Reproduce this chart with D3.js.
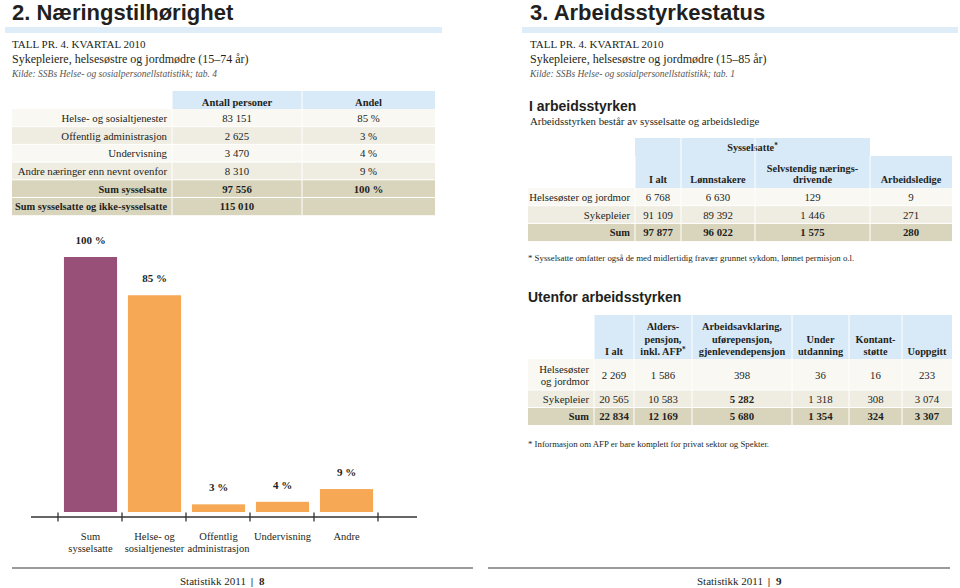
<!DOCTYPE html>
<html><head><meta charset="utf-8">
<script src="https://cdn.jsdelivr.net/npm/d3@7"></script>
<style>body{margin:0;background:#fff}svg{display:block}</style>
</head><body>
<svg id="c" width="960" height="588"></svg>
<script>
// ---------- DATA ----------
const barCategories = ["Sum sysselsatte","Helse- og sosialtjenester","Offentlig administrasjon","Undervisning","Andre"];
const barTickLabels = [["Sum","sysselsatte"],["Helse- og","sosialtjenester"],["Offentlig","administrasjon"],["Undervisning"],["Andre"]];
const barValues = [100,85,3,4,9];

const tblRows = ["Helse- og sosialtjenester","Offentlig administrasjon","Undervisning","Andre næringer enn nevnt ovenfor","Sum sysselsatte","Sum sysselsatte og ikke-sysselsatte"];
const tblHeaders = [["Antall personer"],["Andel"]];
const tblAntall = [83151,2625,3470,8310,97556,115010];
const tblAndel = [85,3,4,9,100,null];

const t1Rows = [["Helsesøster og jordmor"],["Sykepleier"],["Sum"]];
const t1Headers = [["I alt"],["Lønnstakere"],["Selvstendig nærings-","drivende"],["Arbeidsledige"]];
const t1IAlt = [6768,91109,97877];
const t1Lonn = [6630,89392,96022];
const t1Selv = [129,1446,1575];
const t1Ledige = [9,271,280];

const t2Rows = [["Helsesøster","og jordmor"],["Sykepleier"],["Sum"]];
const t2Headers = [["I alt"],["Alders-","pensjon,","inkl. AFP*"],["Arbeidsavklaring,","uførepensjon,","gjenlevendepensjon"],["Under","utdanning"],["Kontant-","støtte"],["Uoppgitt"]];
const t2IAlt = [2269,20565,22834];
const t2Alders = [1586,10583,12169];
const t2Arbeid = [398,5282,5680];
const t2Under = [36,1318,1354];
const t2Kontant = [16,308,324];
const t2Uoppgitt = [233,3074,3307];

// ---------- STYLE ----------
const SERIF = "'Liberation Serif', 'DejaVu Serif', serif";
const SANS = "'Liberation Sans', Arial, sans-serif";
const INK = "#231f20";
const BLUE = "#d8eaf8";
const ROW_LIGHT = "#f9f8f3", ROW_MID = "#efece2", ROW_SUM = "#d9d4bc";
const PURPLE = "#984f78", ORANGE = "#f6a854";

const loc = d3.formatLocale({decimal:",", thousands:"\u2009", grouping:[3], currency:["","kr"]});
const fmt = v => v == null ? "" : loc.format(",d")(v).replace(/\u2009/g," ");
const pct = v => v == null ? "" : v + " %";

const svg = d3.select("#c");

// text with a trailing asterisk rendered as superscript
function starText(sel, t) {
  if (t.endsWith("*")) {
    sel.append("tspan").text(t.slice(0, -1));
    sel.append("tspan").attr("font-size", "0.7em").attr("dy", -3).text("*");
  } else sel.text(t);
}

// ---------- PAGE HEADERS ----------
function pageHeader(x, title, range, tab, barX0, barX1) {
  svg.append("rect").attr("x", barX0).attr("y", 27).attr("width", barX1 - barX0).attr("height", 6).attr("fill", "#deedf8");
  svg.append("text").attr("x", x).attr("y", 20).attr("font-family", SANS).attr("font-weight", "bold")
    .attr("font-size", 22).attr("fill", INK).text(title);
  svg.append("text").attr("x", x).attr("y", 48).attr("font-family", SERIF).attr("font-size", 11).attr("fill", INK).text("TALL PR. 4. KVARTAL 2010");
  svg.append("text").attr("x", x).attr("y", 63).attr("font-family", SERIF).attr("font-size", 12).attr("fill", INK)
    .text("Sykepleiere, helsesøstre og jordmødre (" + range + " år)");
  svg.append("text").attr("x", x).attr("y", 77).attr("font-family", SERIF).attr("font-style", "italic").attr("font-size", 9.5).attr("fill", "#555")
    .text("Kilde: SSBs Helse- og sosialpersonellstatistikk; tab. " + tab);
}
pageHeader(12, "2. Næringstilhørighet", "15–74", "4", 5, 442);
pageHeader(530, "3. Arbeidsstyrkestatus", "15–85", "1", 522, 958);

// ---------- GENERIC TABLE ----------
function drawTable(o) {
  const g = svg.append("g");
  if (o.superHeader) {
    const sh = o.superHeader;
    g.append("rect").attr("x", o.cols[sh.from]).attr("y", sh.top).attr("width", o.cols[sh.to] - o.cols[sh.from])
      .attr("height", o.headerTop - sh.top).attr("fill", BLUE);
    const st = g.append("text").attr("x", (o.cols[sh.from] + o.cols[sh.to]) / 2).attr("y", sh.top + (o.headerTop - sh.top) / 2 + 4)
      .attr("text-anchor", "middle").attr("font-family", SERIF).attr("font-weight", "bold").attr("font-size", o.hfs).attr("fill", INK);
    starText(st, sh.label);
  }
  g.append("rect").attr("x", o.cols[0]).attr("y", o.headerTop).attr("width", o.cols[o.cols.length - 1] - o.cols[0])
    .attr("height", o.headerBottom - o.headerTop).attr("fill", BLUE);
  o.rowEdges.slice(0, -1).forEach((y0, i) => {
    g.append("rect").attr("x", o.x0).attr("y", y0).attr("width", o.cols[o.cols.length - 1] - o.x0)
      .attr("height", o.rowEdges[i + 1] - y0).attr("fill", o.fills[i]);
  });
  o.rowEdges.slice(1, -1).forEach(y => {
    g.append("line").attr("x1", o.x0).attr("x2", o.cols[o.cols.length - 1]).attr("y1", y).attr("y2", y).attr("stroke", "#fff").attr("stroke-width", 1);
  });
  o.cols.slice(0, -1).forEach((x, i) => {
    const top = (o.superHeader && i > o.superHeader.from && i < o.superHeader.to) ? o.superHeader.top : o.headerTop;
    g.append("line").attr("x1", x).attr("x2", x).attr("y1", i === 0 ? o.headerTop : top).attr("y2", o.rowEdges[o.rowEdges.length - 1])
      .attr("stroke", "#fff").attr("stroke-width", 1);
  });
  o.headers.forEach((lines, j) => {
    const cx = (o.cols[j] + o.cols[j + 1]) / 2;
    lines.forEach((t, k) => {
      const ht = g.append("text").attr("x", cx).attr("y", o.headerBottom - o.hBase - (lines.length - 1 - k) * o.hLine)
        .attr("text-anchor", "middle").attr("font-family", SERIF).attr("font-weight", "bold").attr("font-size", o.hfs)
        .attr("fill", INK);
      starText(ht, t);
    });
  });
  o.rows.forEach((lines, i) => {
    const cy = (o.rowEdges[i] + o.rowEdges[i + 1]) / 2;
    const bold = o.boldRows.includes(i);
    lines.forEach((t, k) => {
      g.append("text").attr("x", o.cols[0] - 5).attr("y", cy + 4 + (k - (lines.length - 1) / 2) * 12)
        .attr("text-anchor", "end").attr("font-family", SERIF).attr("font-weight", bold ? "bold" : "normal")
        .attr("font-size", bold ? o.fs - 0.4 : o.fs).attr("fill", INK).text(t);
    });
    o.columns.forEach((col, j) => {
      const isBold = bold || (o.boldCells || []).some(c => c[0] === i && c[1] === j);
      g.append("text").attr("x", (o.cols[j] + o.cols[j + 1]) / 2).attr("y", cy + 4)
        .attr("text-anchor", "middle").attr("font-family", SERIF).attr("font-weight", isBold ? "bold" : "normal")
        .attr("font-size", o.fs).attr("fill", INK).text(col.f(col.v[i]));
    });
  });
}

function edges(y0, heights) { const e = [y0]; heights.forEach(h => e.push(e[e.length - 1] + h)); return e; }

// Left table
drawTable({
  x0: 12, cols: [172, 302, 435], headerTop: 91, headerBottom: 109, hBase: 3.5, hLine: 12, hfs: 10.5, fs: 10.8,
  headers: tblHeaders, rows: tblRows.map(r => [r]),
  rowEdges: edges(109, tblRows.map(() => 17.7)),
  fills: [ROW_LIGHT, ROW_MID, ROW_LIGHT, ROW_MID, ROW_SUM, ROW_SUM],
  boldRows: [4, 5],
  columns: [{v: tblAntall, f: fmt}, {v: tblAndel, f: pct}]
});

// Right: I arbeidsstyrken
svg.append("text").attr("x", 529).attr("y", 111).attr("font-family", SANS).attr("font-weight", "bold").attr("font-size", 14).attr("fill", INK).text("I arbeidsstyrken");
svg.append("text").attr("x", 530).attr("y", 125).attr("font-family", SERIF).attr("font-size", 10.8).attr("fill", INK).text("Arbeidsstyrken består av sysselsatte og arbeidsledige");

drawTable({
  x0: 528, cols: [635, 681, 755, 870, 952], headerTop: 156, headerBottom: 188, hBase: 5, hLine: 11.5, hfs: 10.3, fs: 10.8,
  superHeader: {from: 0, to: 3, top: 138, label: "Sysselsatte*"},
  headers: t1Headers, rows: t1Rows,
  rowEdges: edges(188, [17.7, 17.7, 17.7]),
  fills: [ROW_LIGHT, ROW_MID, ROW_SUM],
  boldRows: [2],
  columns: [{v: t1IAlt, f: fmt}, {v: t1Lonn, f: fmt}, {v: t1Selv, f: fmt}, {v: t1Ledige, f: fmt}]
});
svg.append("text").attr("x", 528).attr("y", 261).attr("font-family", SERIF).attr("font-size", 8.8).attr("fill", INK)
  .text("* Sysselsatte omfatter også de med midlertidig fravær grunnet sykdom, lønnet permisjon o.l.");

// Right: Utenfor arbeidsstyrken
svg.append("text").attr("x", 528).attr("y", 302).attr("font-family", SANS).attr("font-weight", "bold").attr("font-size", 14).attr("fill", INK).text("Utenfor arbeidsstyrken");
drawTable({
  x0: 528, cols: [594, 634, 692, 792, 849, 902, 952], headerTop: 315, headerBottom: 359, hBase: 4, hLine: 12.5, hfs: 10.3, fs: 10.8,
  headers: t2Headers, rows: t2Rows,
  rowEdges: edges(359, [31, 17.5, 17.5]),
  fills: [ROW_LIGHT, ROW_MID, ROW_SUM],
  boldRows: [2], boldCells: [[1, 2]],
  columns: [{v: t2IAlt, f: fmt}, {v: t2Alders, f: fmt}, {v: t2Arbeid, f: fmt}, {v: t2Under, f: fmt}, {v: t2Kontant, f: fmt}, {v: t2Uoppgitt, f: fmt}]
});
svg.append("text").attr("x", 528).attr("y", 447).attr("font-family", SERIF).attr("font-size", 8.8).attr("fill", INK)
  .text("* Informasjon om AFP er bare komplett for privat sektor og Spekter.");

// ---------- BAR CHART ----------
const x = d3.scaleBand().domain(barCategories).range([58, 378]).paddingInner(0).paddingOuter(0);
const y = d3.scaleLinear().domain([0, 100]).range([512, 257]);
const bw = x.bandwidth() * 0.83;
const chart = svg.append("g");
chart.selectAll("rect.bar").data(barCategories).join("rect").attr("class", "bar")
  .attr("x", d => x(d) + (x.bandwidth() - bw) / 2 + 0.5)
  .attr("y", (d, i) => y(barValues[i]))
  .attr("width", bw)
  .attr("height", (d, i) => y(0) - y(barValues[i]))
  .attr("fill", (d, i) => i === 0 ? PURPLE : ORANGE);
chart.selectAll("text.val").data(barCategories).join("text").attr("class", "val")
  .attr("x", d => x(d) + x.bandwidth() / 2 + 0.5)
  .attr("y", (d, i) => y(barValues[i]) - 13)
  .attr("text-anchor", "middle").attr("font-family", SERIF).attr("font-weight", "bold").attr("font-size", 11).attr("fill", INK)
  .text((d, i) => barValues[i] + " %");
const axisY = 517;
chart.append("line").attr("x1", 31).attr("x2", 417).attr("y1", axisY).attr("y2", axisY).attr("stroke", "#333").attr("stroke-width", 1.3);
const tickXs = barCategories.map(d => x(d)).concat([x.range()[1]]);
chart.selectAll("line.tick").data(tickXs).join("line").attr("class", "tick")
  .attr("x1", d => d).attr("x2", d => d).attr("y1", axisY - 4.5).attr("y2", axisY + 4.5).attr("stroke", "#333").attr("stroke-width", 1.3);
barCategories.forEach((c, i) => {
  barTickLabels[i].forEach((t, k) => {
    chart.append("text").attr("x", x(c) + x.bandwidth() / 2 + 0.5).attr("y", 540 + k * 12)
      .attr("text-anchor", "middle").attr("font-family", SERIF).attr("font-size", 10.5).attr("fill", INK).text(t);
  });
});

// ---------- FOOTERS ----------
function footer(x1, x2, tx, page) {
  svg.append("line").attr("x1", x1).attr("x2", x2).attr("y1", 568).attr("y2", 568).attr("stroke", "#7a7a7a").attr("stroke-width", 1.5);
  const t = svg.append("text").attr("x", tx).attr("y", 585).attr("font-family", SERIF).attr("font-size", 11).attr("fill", INK);
  t.append("tspan").text("Statistikk 2011 ");
  t.append("tspan").attr("font-weight", "bold").attr("dx", 2).text("|");
  t.append("tspan").attr("font-weight", "bold").attr("dx", 6).text(page);
}
footer(12, 473, 180, "8");
footer(488, 950, 697, "9");
</script>
</body></html>
